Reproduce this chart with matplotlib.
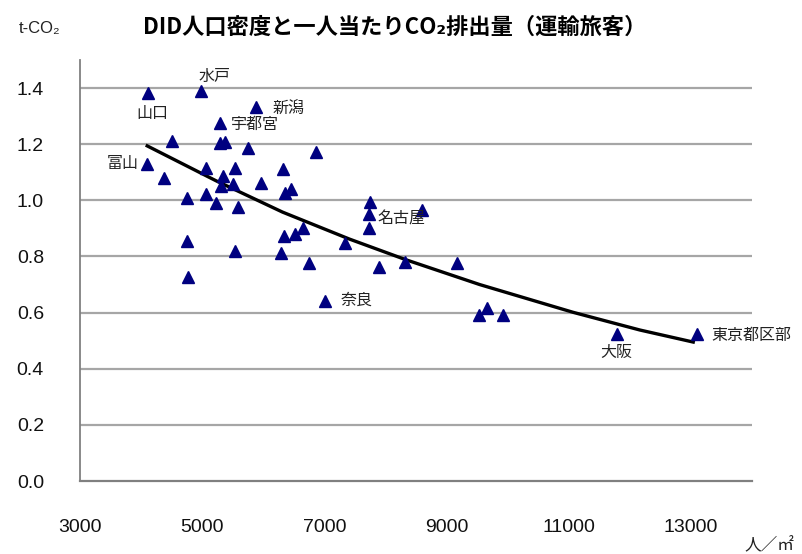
import matplotlib
matplotlib.use("Agg")
import matplotlib.pyplot as plt

# DID population density (people/km2) vs per-capita CO2 (t-CO2), passenger transport
density = [4115, 4984, 5885, 5295, 4508, 5295, 5377, 5754, 6864, 4098,
           5066, 5541, 6328, 4377, 5344, 5311, 5508, 5967, 6361, 6459,
           4754, 5066, 5230, 5590, 7749, 7727, 8602, 7727, 4749, 5541,
           6344, 6513, 6645, 7344, 6295, 6754, 4775, 7890, 8328, 9169,
           7011, 9530, 9667, 9923, 11782, 13093]
co2 = [1.382, 1.389, 1.332, 1.275, 1.211, 1.204, 1.208, 1.187, 1.172, 1.130,
       1.115, 1.115, 1.112, 1.080, 1.087, 1.052, 1.059, 1.062, 1.027, 1.041,
       1.009, 1.023, 0.991, 0.977, 0.995, 0.951, 0.965, 0.903, 0.856, 0.821,
       0.874, 0.880, 0.903, 0.847, 0.811, 0.776, 0.726, 0.761, 0.781, 0.776,
       0.643, 0.590, 0.616, 0.590, 0.522, 0.522]

# labelled cities: (name, index into the arrays, offset in px, alignment)
city_labels = [
    ("山口", 0, (4, -20), "center"),
    ("水戸", 1, (13, 15), "center"),
    ("新潟", 2, (16, -2), "left"),
    ("宇都宮", 3, (11, -1), "left"),
    ("富山", 9, (-8, 0), "right"),
    ("名古屋", 25, (9, -5), "left"),
    ("奈良", 40, (16, 0), "left"),
    ("大阪", 44, (0, -18), "center"),
    ("東京都区部", 45, (15, -1), "left"),
]

# trend line
trend_x = [4100, 5224, 6316, 7410, 8339, 9541, 11072, 12164, 13038]
trend_y = [1.194, 1.070, 0.958, 0.862, 0.788, 0.700, 0.601, 0.538, 0.495]

xticks = [3000, 5000, 7000, 9000, 11000, 13000]
yticks = [0.0, 0.2, 0.4, 0.6, 0.8, 1.0, 1.2, 1.4]

jp = ["Noto Sans CJK JP", "DejaVu Sans"]
num = ["Liberation Sans", "DejaVu Sans"]

fig = plt.figure(figsize=(8.02, 5.54), dpi=100)
ax = fig.add_axes([80 / 802, 73 / 554, 672 / 802, 421 / 554])

for y in yticks[1:]:
    ax.axhline(y, color="#a6a6a6", lw=1.6, zorder=1)

ax.plot(trend_x, trend_y, color="black", lw=2.4, zorder=2)
ax.plot(density, co2, linestyle="none", marker="^", markersize=8.5,
        color="#000080", zorder=3)

px = 0.72  # points per pixel at 100 dpi
for name, i, (dx, dy), ha in city_labels:
    ax.annotate(name, (density[i], co2[i]), xytext=(dx * px, dy * px),
                textcoords="offset points", ha=ha, va="center",
                fontsize=11.5, family=jp, color="#222222", zorder=4)

ax.set_xlim(3000, 14000)
ax.set_ylim(0, 1.5)
ax.set_xticks(xticks)
ax.set_yticks(yticks)
ax.set_xticklabels([str(v) for v in xticks], family=num, fontsize=14)
ax.set_yticklabels(["%.1f" % v for v in yticks], family=num, fontsize=14)
ax.tick_params(axis="both", length=0, colors="#111111")
ax.tick_params(axis="x", pad=27)
ax.tick_params(axis="y", pad=26)

for s in ["top", "right"]:
    ax.spines[s].set_visible(False)
ax.spines["left"].set_color("#808080")
ax.spines["left"].set_linewidth(1.3)
ax.spines["bottom"].set_color("#808080")
ax.spines["bottom"].set_linewidth(1.6)

fig.text(395 / 802, 1 - 27 / 554, "DID人口密度と一人当たりCO₂排出量（運輸旅客）",
         ha="center", va="center", fontsize=16, fontweight="bold", family=jp)
fig.text(40 / 802, 1 - 28 / 554, "t-CO₂", ha="center", va="center",
         fontsize=12, family=num, color="#222222")
fig.text(769 / 802, 1 - 546 / 554, "人／㎡", ha="center", va="center",
         fontsize=12, family=jp, color="#222222")

fig.savefig("out.png", dpi=100)
